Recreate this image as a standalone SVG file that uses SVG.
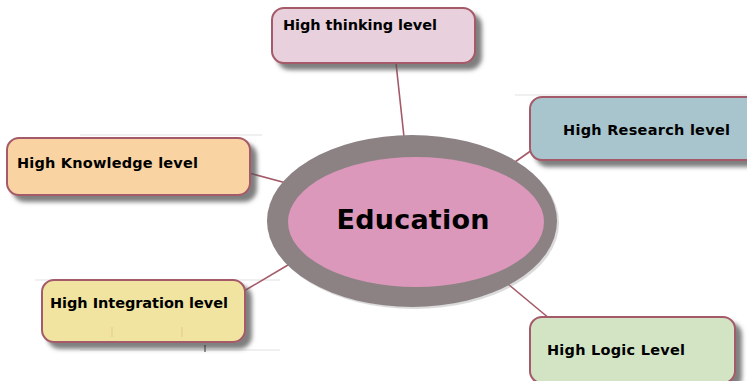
<svg xmlns="http://www.w3.org/2000/svg" width="747" height="381" viewBox="0 0 747 381">
<defs>
<filter id="sh" x="-10%" y="-20%" width="130%" height="150%">
<feGaussianBlur in="SourceAlpha" stdDeviation="2"/>
<feOffset dx="6" dy="6" result="b"/>
<feFlood flood-color="#555" flood-opacity="0.75"/>
<feComposite in2="b" operator="in"/>
<feMerge><feMergeNode/><feMergeNode in="SourceGraphic"/></feMerge>
</filter>
<style>
.box{stroke:#a45a68;stroke-width:2;filter:url(#sh)}
.lbl{font-family:"DejaVu Sans",Verdana,sans-serif;font-weight:bold;font-size:14.5px;fill:#000}
.con{stroke:#a45a68;stroke-width:1.6;fill:none}
.faint{stroke:#e2e2e2;stroke-width:1.2}
</style>
</defs>
<rect width="747" height="381" fill="#fff"/>
<g id="artifacts">
<line class="faint" x1="515" y1="95" x2="747" y2="95"/>
<line class="faint" x1="80" y1="135" x2="262" y2="135"/>
<line class="faint" x1="35" y1="280" x2="280" y2="280"/>
<line class="faint" x1="80" y1="350" x2="280" y2="350"/>
</g>
<g id="connectors">
<line class="con" x1="396" y1="63" x2="404" y2="137"/>
<line class="con" x1="532" y1="150" x2="515" y2="162"/>
<line class="con" x1="249" y1="173" x2="290" y2="184"/>
<line class="con" x1="244" y1="291" x2="293" y2="262"/>
<line class="con" x1="508" y1="284" x2="550" y2="319"/>
</g>
<g id="education">
<ellipse cx="414" cy="223" rx="145" ry="86" fill="#999" opacity="0.35"/>
<ellipse cx="412" cy="221" rx="145" ry="86" fill="#8c8284"/>
<ellipse cx="416" cy="222" rx="128" ry="65" fill="#dc98bb"/>
<text x="413" y="229" text-anchor="middle" font-family="DejaVu Sans,Verdana,sans-serif" font-weight="bold" font-size="27" textLength="153" fill="#000">Education</text>
</g>
<g id="thinking">
<rect class="box" x="272" y="8" width="203" height="55" rx="12" fill="#e8d0dc"/>
<text class="lbl" x="283" y="30" textLength="154">High thinking level</text>
</g>
<g id="research">
<rect class="box" x="530" y="97" width="230" height="63" rx="12" fill="#a8c4cc"/>
<text class="lbl" x="563" y="135" textLength="167">High Research level</text>
</g>
<g id="knowledge">
<rect class="box" x="7" y="138" width="243" height="57" rx="12" fill="#f9d3a2"/>
<text class="lbl" x="17" y="168" textLength="181">High Knowledge level</text>
</g>
<g id="integration">
<rect class="box" x="42" y="280" width="203" height="62" rx="12" fill="#f1e4a0"/>
<text class="lbl" x="50" y="308" textLength="178">High Integration level</text>
<line x1="112" y1="327" x2="112" y2="337" stroke="#e2c890" stroke-width="1"/>
<line x1="182" y1="327" x2="182" y2="337" stroke="#e2c890" stroke-width="1"/>
<line x1="205" y1="345" x2="205" y2="352" stroke="#333" stroke-width="1"/>
</g>
<g id="logic">
<rect class="box" x="530" y="317" width="205" height="66" rx="12" fill="#d3e4c5"/>
<text class="lbl" x="547" y="355" textLength="138">High Logic Level</text>
</g>
</svg>
